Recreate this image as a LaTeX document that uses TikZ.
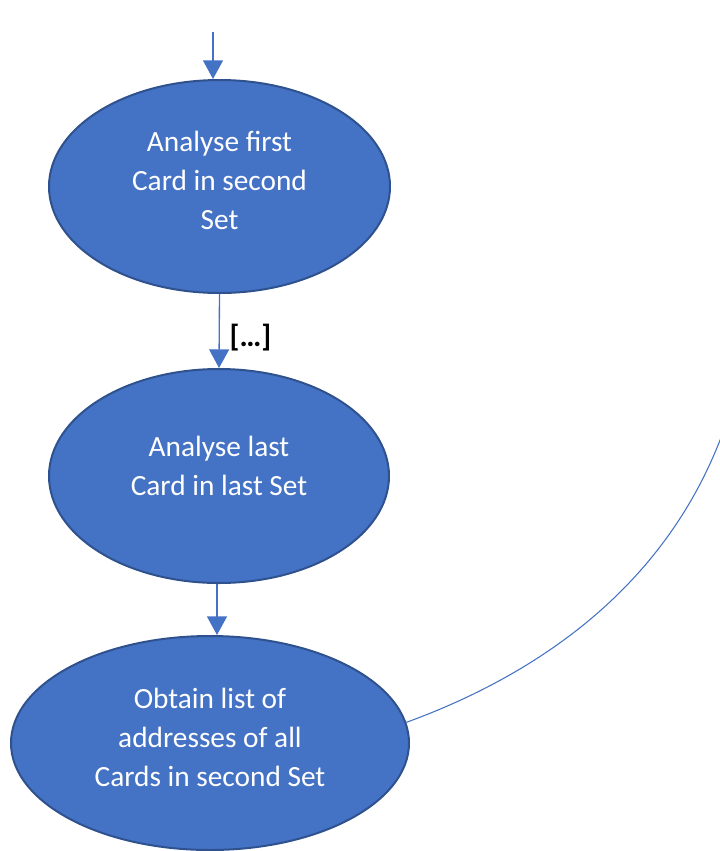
\documentclass[tikz,border=0pt]{standalone}
\usepackage{fontspec}
\setmainfont{Carlito}
\usetikzlibrary{shapes.geometric,arrows.meta}
\definecolor{fillblue}{HTML}{4472C4}
\definecolor{edgeblue}{HTML}{2F528F}
\tikzset{
  stepell/.style={ellipse, fill=fillblue, draw=edgeblue, line width=1.5pt, inner sep=0pt,
    text=white, align=center, font=\fontsize{22pt}{29.25pt}\selectfont},
  arr/.style={draw=fillblue, line width=1pt, -{Triangle[width=15pt,length=14pt]}},
  conn/.style={draw=fillblue, line width=0.8pt},
}
\begin{document}
\begin{tikzpicture}[x=0.75pt,y=-0.75pt]
\useasboundingbox (0,0) rectangle (720,851);
\clip (0,0) rectangle (720,851);
\node[stepell, minimum width=255.75pt, minimum height=159.75pt] (e1) at (219.5,186.5) {\raisebox{-2.5pt}[0pt][0pt]{\begin{tabular}{@{}c@{}}Analyse first\\Card in second\\Set\end{tabular}}};
\node[stepell, minimum width=255pt, minimum height=160.5pt] (e2) at (219,476) {\raisebox{1pt}[0pt][0pt]{\begin{tabular}{@{}c@{}}Analyse last\\Card in last Set\end{tabular}}};
\node[stepell, minimum width=298.5pt, minimum height=160.5pt] (e3) at (210,743) {\raisebox{-2.5pt}[0pt][0pt]{\begin{tabular}{@{}c@{}}Obtain list of\\addresses of all\\Cards in second Set\end{tabular}}};
\coordinate (s) at (213,32);
\coordinate (far) at (722,435);
\draw[arr] (s) -- (s |- e1.north);
\draw[arr] (e1.south) -- node[right=4pt, yshift=-5pt, font=\fontsize{23pt}{24pt}\selectfont\bfseries, text=black] {[…]} (e2.north);
\draw[arr] ([xshift=-1.5pt]e2.south) -- ([xshift=-1.5pt]e2.south |- e3.north);
\draw[conn] (e3.6) .. controls (547,671) and (667,581) .. (far);
\end{tikzpicture}
\end{document}
